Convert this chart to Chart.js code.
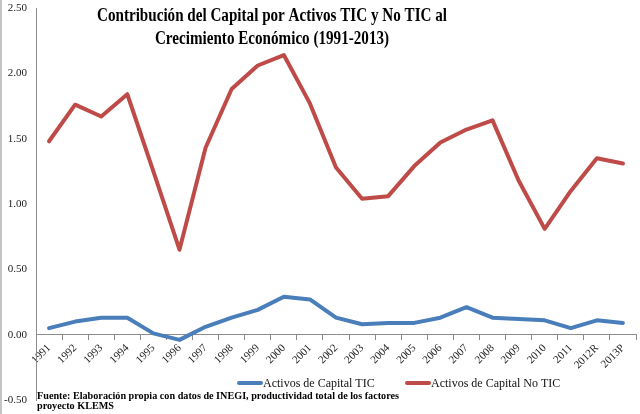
<!DOCTYPE html>
<html>
<head>
<meta charset="utf-8">
<script src="https://cdn.jsdelivr.net/npm/chart.js@4"></script>
<style>
  html, body { margin: 0; padding: 0; background: #fff; }
  #wrap { width: 640px; height: 414px; position: relative; }
</style>
</head>
<body>
<div id="wrap"><canvas id="myChart" width="640" height="414"></canvas></div>
<script>
const years = ['1991', '1992', '1993', '1994', '1995', '1996', '1997', '1998', '1999', '2000', '2001', '2002',
  '2003', '2004', '2005', '2006', '2007', '2008', '2009', '2010', '2011', '2012R', '2013P'];
const tic = [0.05, 0.10, 0.13, 0.13, 0.01, -0.04, 0.06, 0.13, 0.19, 0.29, 0.27, 0.13,
  0.08, 0.09, 0.09, 0.13, 0.21, 0.13, 0.12, 0.11, 0.05, 0.11, 0.09];
const noTic = [1.48, 1.76, 1.67, 1.84, 1.25, 0.65, 1.43, 1.88, 2.06, 2.14, 1.77, 1.28,
  1.04, 1.06, 1.29, 1.47, 1.57, 1.64, 1.18, 0.81, 1.10, 1.35, 1.31];
const titleLines = ['Contribución del Capital por Activos TIC y No TIC al', 'Crecimiento Económico (1991-2013)'];
const sourceLines = ['Fuente: Elaboración propia con datos de INEGI, productividad total de los factores', 'proyecto KLEMS'];

const serif = '"Liberation Serif", "DejaVu Serif", serif';

// draws text squeezed horizontally, like the narrow face of the original
function squeezed(ctx, text, x, y, sx) {
  ctx.save();
  ctx.translate(x, y);
  ctx.scale(sx, 1);
  ctx.fillText(text, 0, 0);
  ctx.restore();
}

const overlay = {
  id: 'overlay',
  afterDraw(chart) {
    const ctx = chart.ctx;
    ctx.save();
    ctx.fillStyle = '#c4c4c4';
    ctx.fillRect(0, 0, 2, 414);

    // title
    ctx.fillStyle = '#000';
    ctx.font = 'bold 18px ' + serif;
    ctx.textAlign = 'center';
    ctx.textBaseline = 'alphabetic';
    let s = 350 / ctx.measureText(titleLines[0]).width;
    squeezed(ctx, titleLines[0], 272, 21, s);
    squeezed(ctx, titleLines[1], 272, 44, s);

    // legend
    ctx.font = '12px ' + serif;
    ctx.textAlign = 'left';
    const items = [[237, chart.data.datasets[0]], [405, chart.data.datasets[1]]];
    items.forEach(([x, ds]) => {
      ctx.strokeStyle = ds.borderColor;
      ctx.lineWidth = 4;
      ctx.lineCap = 'round';
      ctx.beginPath();
      ctx.moveTo(x + 2, 383);
      ctx.lineTo(x + 24, 383);
      ctx.stroke();
      ctx.fillStyle = '#111';
      squeezed(ctx, ds.label, x + 26, 387, 1);
    });

    // source
    ctx.font = 'bold 10px ' + serif;
    ctx.fillStyle = '#000';
    s = 362 / ctx.measureText(sourceLines[0]).width;
    squeezed(ctx, sourceLines[0], 37, 399, s);
    squeezed(ctx, sourceLines[1], 37, 409, s);
    ctx.restore();
  }
};

new Chart(document.getElementById('myChart'), {
  type: 'line',
  data: {
    labels: years,
    datasets: [
      { label: 'Activos de Capital TIC', data: tic, borderColor: '#4a7ebb', backgroundColor: '#4a7ebb' },
      { label: 'Activos de Capital No TIC', data: noTic, borderColor: '#be4b48', backgroundColor: '#be4b48' }
    ]
  },
  options: {
    responsive: false,
    animation: false,
    layout: { padding: { top: 8, bottom: 14, left: 0, right: 4 } },
    elements: {
      line: { borderWidth: 4, tension: 0, borderJoinStyle: 'round', borderCapStyle: 'round' },
      point: { radius: 0 }
    },
    plugins: {
      legend: { display: false },
      title: { display: false },
      tooltip: { enabled: false }
    },
    scales: {
      x: {
        position: { y: 0 },
        offset: true,
        grid: { display: true, drawOnChartArea: false, offset: true, tickLength: 5, color: '#8c8c8c' },
        border: { color: '#8c8c8c' },
        ticks: {
          minRotation: 45, maxRotation: 45, autoSkip: false, padding: 2,
          color: '#222', font: { family: serif, size: 11 }
        }
      },
      y: {
        min: -0.5, max: 2.5,
        afterFit(scale) {
          scale.width = 36;
          scale.paddingTop = 0;
          scale.paddingBottom = 0;
        },
        grid: { display: false, drawTicks: false },
        border: { display: true, color: '#8c8c8c' },
        ticks: {
          stepSize: 0.5, padding: 9, color: '#222', font: { family: serif, size: 11 },
          callback: v => v.toFixed(2)
        }
      }
    }
  },
  plugins: [overlay]
});
</script>
</body>
</html>
